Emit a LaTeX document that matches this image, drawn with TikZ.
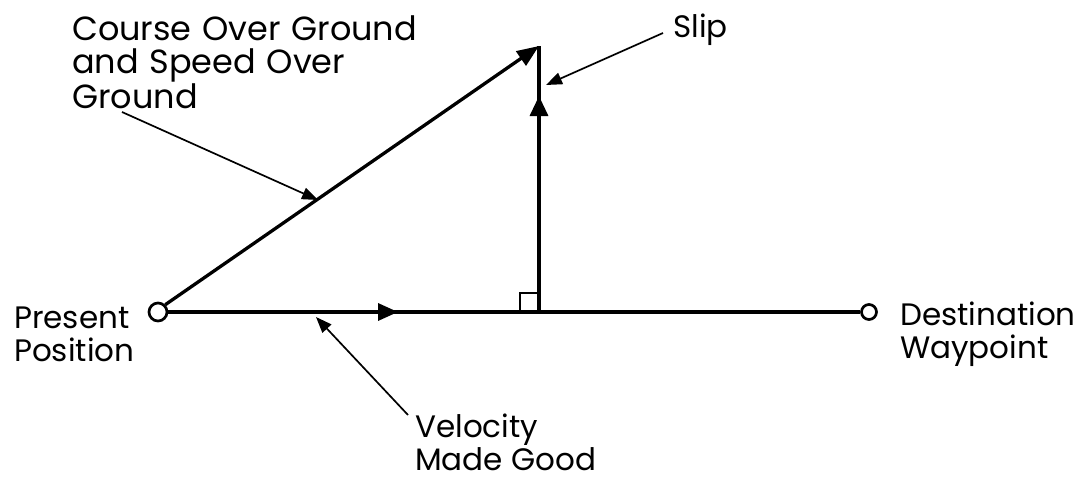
\documentclass[tikz,border=0pt]{standalone}
\usepackage{fontspec}
\setmainfont{Poppins}
\usetikzlibrary{arrows.meta}
\newcommand\widespacing{\spaceskip=0.32em plus 0.1em\relax}
\begin{document}
\begin{tikzpicture}[x=1pt,y=-1pt,
  lbl/.style={inner sep=0pt, align=left, font=\fontsize{31}{32.5}\selectfont},
  mainline/.style={line width=3.3pt},
  leader/.style={line width=1.7pt, -{Triangle[length=16pt,width=12pt]}},
  pt/.style={circle, draw, line width=2.7pt, inner sep=0pt, fill=white}]
\useasboundingbox[fill=white] (0,0) rectangle (1084,479);
% points
\node[pt, minimum size=18pt] (pp) at (158,312) {};
\node[pt, minimum size=15pt] (dw) at (869,312) {};
\coordinate (top) at (539,46);
\coordinate (foot) at (539,312);
\coordinate (hmid) at (398,312);
\coordinate (vmid) at (539,96);
% main lines
\draw[mainline] (pp.east) -- (dw.west);
\draw[mainline, -{Triangle[length=20pt,width=17pt]}] (pp.east) -- (hmid);
\draw[mainline] (foot) -- (top);
\draw[mainline, -{Triangle[length=20pt,width=18pt]}] (foot) -- (vmid);
\draw[mainline, -{Triangle[length=22pt,width=17pt]}] (pp.north east) -- (top);
\draw[line width=1.5pt] (520,293) rectangle (foot);
% labels
\node[lbl, anchor=north west, font={\fontsize{33.5}{33}\selectfont\widespacing}] (cog) at (72,16) {Course Over Ground\\and Speed Over\\Ground};
\node[lbl, anchor=north west] (ppl) at (14,307) {Present\\Position};
\node[lbl, anchor=north west] (dwl) at (900,302) {Destination\\Waypoint};
\node[lbl, anchor=north west] (vmg) at (415,414) {Velocity\\Made Good};
\node[lbl, anchor=base west] (slip) at (673,37) {Slip};
% leaders
\coordinate (cogs) at (122,112);
\coordinate (cogt) at (318,200);
\coordinate (slips) at (663,33);
\coordinate (slipt) at (546,85);
\coordinate (vmgs) at (408,415);
\coordinate (vmgt) at (316,317);
\draw[leader] (cogs) -- (cogt);
\draw[leader] (slips) -- (slipt);
\draw[leader] (vmgs) -- (vmgt);
\end{tikzpicture}
\end{document}
